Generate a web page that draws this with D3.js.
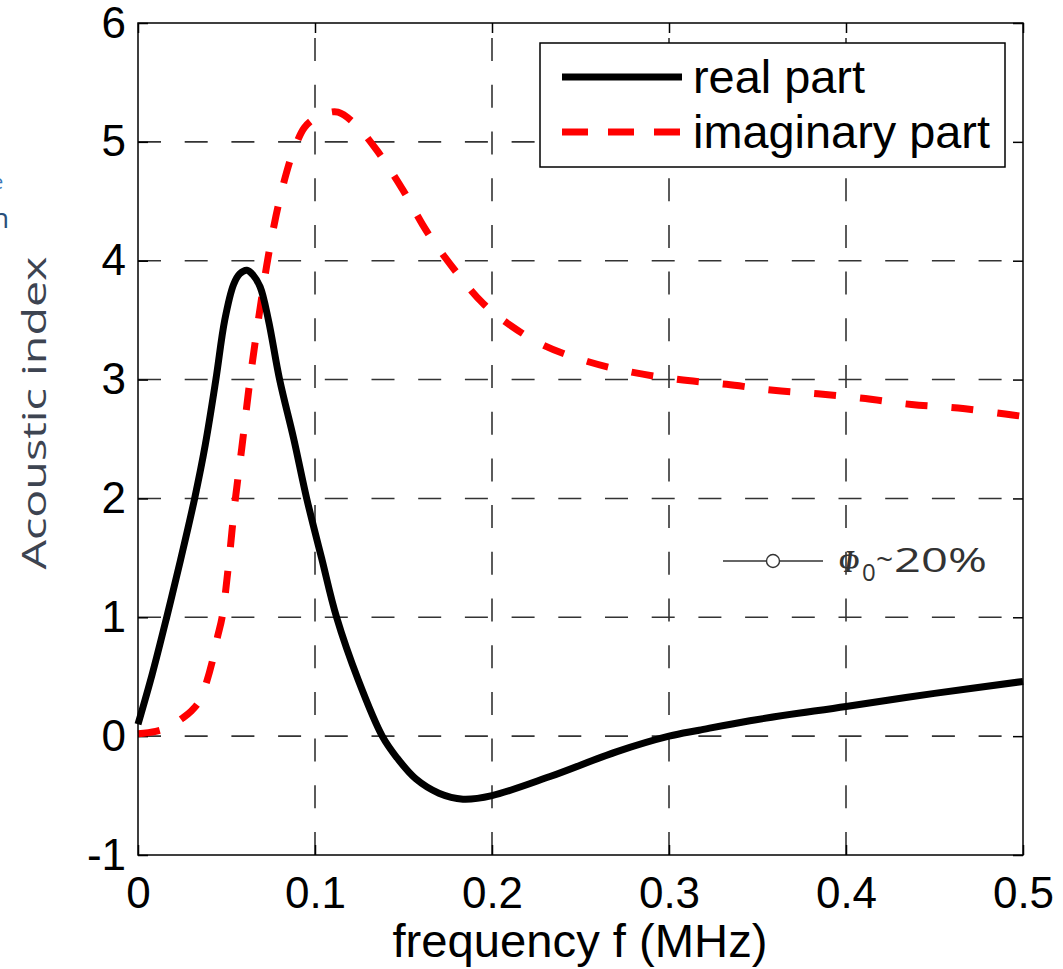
<!DOCTYPE html>
<html>
<head>
<meta charset="utf-8">
<script src="https://cdn.jsdelivr.net/npm/d3@7"></script>
<style>
  body { margin: 0; background: #fff; }
  svg { display: block; }
</style>
</head>
<body>
<div id="chart"></div>
<script>
// real part (solid black)
const freqReal = [0, 0.008, 0.0162, 0.024, 0.032, 0.038, 0.044, 0.049, 0.054, 0.0575, 0.0615, 0.065, 0.069, 0.0737, 0.080, 0.088, 0.0953, 0.1037, 0.1122, 0.1245, 0.138, 0.1462, 0.157, 0.170, 0.1836, 0.2, 0.2328, 0.2706, 0.3, 0.317, 0.3457, 0.4, 0.45, 0.5];
const realPart = [0.1, 0.52, 1.0, 1.48, 2.0, 2.45, 3.0, 3.5, 3.8, 3.89, 3.92, 3.88, 3.78, 3.5, 3.0, 2.5, 2.0, 1.5, 1.0, 0.47, 0.0, -0.18, -0.36, -0.48, -0.53, -0.5, -0.34, -0.13, 0.0, 0.05, 0.13, 0.25, 0.36, 0.46];

// imaginary part (dashed red)
const freqImag = [0, 0.01, 0.018, 0.025, 0.030, 0.035, 0.038, 0.042, 0.045, 0.0475, 0.051, 0.0548, 0.0586, 0.0633, 0.0675, 0.0705, 0.0734, 0.078, 0.0835, 0.088, 0.094, 0.1, 0.106, 0.113, 0.1226, 0.1349, 0.1499, 0.163, 0.179, 0.195, 0.21, 0.229, 0.2545, 0.2797, 0.3056, 0.3325, 0.359, 0.384, 0.411, 0.437, 0.4634, 0.49, 0.5];
const imagPart = [0.02, 0.04, 0.08, 0.15, 0.21, 0.3, 0.42, 0.63, 0.84, 1.0, 1.42, 1.97, 2.42, 3.0, 3.45, 3.75, 4.02, 4.38, 4.72, 4.93, 5.12, 5.2, 5.24, 5.25, 5.15, 4.93, 4.59, 4.25, 3.92, 3.64, 3.46, 3.29, 3.15, 3.06, 3.0, 2.96, 2.91, 2.88, 2.84, 2.79, 2.76, 2.71, 2.69];

const xTicks = [0, 0.1, 0.2, 0.3, 0.4, 0.5];
const yTicks = [-1, 0, 1, 2, 3, 4, 5, 6];
const legendLabels = ['real part', 'imaginary part'];

const W = 1063, H = 969;
const margin = { top: 23, right: 40, bottom: 114, left: 138 };
const width = W - margin.left - margin.right;
const height = H - margin.top - margin.bottom;

const svg = d3.select('#chart').append('svg')
  .attr('width', W)
  .attr('height', H);

const g = svg.append('g')
  .attr('transform', `translate(${margin.left},${margin.top})`);

const x = d3.scaleLinear().domain([0, 0.5]).range([0, width]);
const y = d3.scaleLinear().domain([-1, 6]).range([height, 0]);

// grid
g.append('g').selectAll('line')
  .data(yTicks.slice(1, -1))
  .enter().append('line')
  .attr('x1', 0).attr('x2', width)
  .attr('y1', d => y(d)).attr('y2', d => y(d))
  .attr('stroke', '#333').attr('stroke-width', 1.6)
  .attr('stroke-dasharray', '23,23.7');

g.append('g').selectAll('line')
  .data(xTicks.slice(1, -1))
  .enter().append('line')
  .attr('x1', d => x(d)).attr('x2', d => x(d))
  .attr('y1', height).attr('y2', 0)
  .attr('stroke', '#333').attr('stroke-width', 1.6)
  .attr('stroke-dasharray', '23,23.7');

// axes
const fmtX = d => d === 0 ? '0' : String(d);
const axisFont = "'Liberation Sans', Arial, sans-serif";

const xAxis = g.append('g')
  .attr('transform', `translate(0,${height})`)
  .call(d3.axisBottom(x).tickValues(xTicks).tickFormat(fmtX).tickSizeInner(-10).tickSizeOuter(0).tickPadding(22));
const yAxis = g.append('g')
  .call(d3.axisLeft(y).tickValues(yTicks).tickFormat(d => String(d)).tickSizeInner(-10).tickSizeOuter(0).tickPadding(12));
g.append('g')
  .call(d3.axisTop(x).tickValues(xTicks).tickFormat('').tickSizeInner(-10).tickSizeOuter(0));
g.append('g')
  .attr('transform', `translate(${width},0)`)
  .call(d3.axisRight(y).tickValues(yTicks).tickFormat('').tickSizeInner(-10).tickSizeOuter(0));

g.selectAll('.domain').remove();
g.selectAll('.tick line').attr('stroke', '#000').attr('stroke-width', 1.5);
[xAxis, yAxis].forEach(a => a.selectAll('text')
  .attr('font-family', axisFont)
  .attr('font-size', 44)
  .attr('fill', '#000'));

// curves
const line = d3.line()
  .x(d => x(d[0]))
  .y(d => y(d[1]))
  .curve(d3.curveCatmullRom.alpha(0.5));

g.append('path')
  .datum(d3.zip(freqImag, imagPart))
  .attr('fill', 'none')
  .attr('stroke', '#f00')
  .attr('stroke-width', 7)
  .attr('stroke-dasharray', '22,24')
  .attr('d', line);

g.append('path')
  .datum(d3.zip(freqReal, realPart))
  .attr('fill', 'none')
  .attr('stroke', '#000')
  .attr('stroke-width', 7)
  .attr('stroke-linejoin', 'round')
  .attr('d', line);

// box
g.append('rect')
  .attr('width', width).attr('height', height)
  .attr('fill', 'none').attr('stroke', '#000').attr('stroke-width', 1.5);

// legend
const legend = svg.append('g').attr('transform', 'translate(540,43)');
legend.append('rect')
  .attr('width', 465).attr('height', 124)
  .attr('fill', '#fff').attr('stroke', '#000').attr('stroke-width', 1.5);
const items = legend.selectAll('g.item')
  .data(legendLabels)
  .enter().append('g')
  .attr('transform', (d, i) => `translate(0,${34 + i * 55})`);
items.append('line')
  .attr('x1', 22).attr('x2', 142)
  .attr('stroke', (d, i) => i === 0 ? '#000' : '#f00')
  .attr('stroke-width', 7)
  .attr('stroke-dasharray', (d, i) => i === 0 ? null : '26,20');
items.append('text')
  .attr('x', 153).attr('y', 16)
  .attr('font-family', axisFont)
  .attr('font-size', 46)
  .attr('textLength', (d, i) => i === 0 ? 172 : 297)
  .attr('lengthAdjust', 'spacingAndGlyphs')
  .text(d => d);

// axis titles
svg.append('text')
  .attr('x', 580).attr('y', 957)
  .attr('text-anchor', 'middle')
  .attr('font-family', axisFont)
  .attr('font-size', 47)
  .attr('textLength', 375)
  .attr('lengthAdjust', 'spacingAndGlyphs')
  .text('frequency f (MHz)');

svg.append('text')
  .attr('transform', 'translate(46,413) rotate(-90)')
  .attr('text-anchor', 'middle')
  .attr('font-family', "'Open Sans', 'Noto Sans', sans-serif")
  .attr('font-size', 33)
  .attr('fill', '#3d4451')
  .attr('textLength', 313)
  .attr('lengthAdjust', 'spacingAndGlyphs')
  .text('Acoustic index');

// porosity annotation
const note = svg.append('g').attr('transform', 'translate(723,561)');
note.append('line').attr('x1', 0).attr('x2', 100)
  .attr('stroke', '#333').attr('stroke-width', 1.4);
note.append('circle').attr('cx', 50).attr('r', 6.5)
  .attr('fill', '#fff').attr('stroke', '#333').attr('stroke-width', 1.4);
const noteFont = "'Open Sans', 'Noto Sans', sans-serif";
note.append('text')
  .attr('x', 116).attr('y', 11)
  .attr('font-family', "'Liberation Serif', 'DejaVu Serif', serif")
  .attr('font-weight', 'bold').attr('font-style', 'italic')
  .attr('font-size', 31).attr('fill', '#333')
  .attr('textLength', 20).attr('lengthAdjust', 'spacingAndGlyphs')
  .text('Φ');
note.append('text')
  .attr('x', 139).attr('y', 20)
  .attr('font-family', noteFont).attr('font-size', 24).attr('fill', '#333')
  .text('0');
note.append('text')
  .attr('x', 153).attr('y', 9)
  .attr('font-family', noteFont).attr('font-size', 30).attr('fill', '#333')
  .text('~');
note.append('text')
  .attr('x', 171).attr('y', 11)
  .attr('font-family', noteFont).attr('font-size', 33).attr('fill', '#333')
  .attr('textLength', 93).attr('lengthAdjust', 'spacingAndGlyphs')
  .text('20%');

// clipped fragments at the left edge
svg.append('text').attr('x', -8).attr('y', 189)
  .attr('font-family', "'Open Sans', sans-serif").attr('font-size', 20)
  .attr('fill', '#3a78b8').text('e');
svg.append('text').attr('x', -8).attr('y', 228)
  .attr('font-family', "'Open Sans', sans-serif").attr('font-size', 28)
  .attr('fill', '#2b4f7a').text('n');
</script>
</body>
</html>
